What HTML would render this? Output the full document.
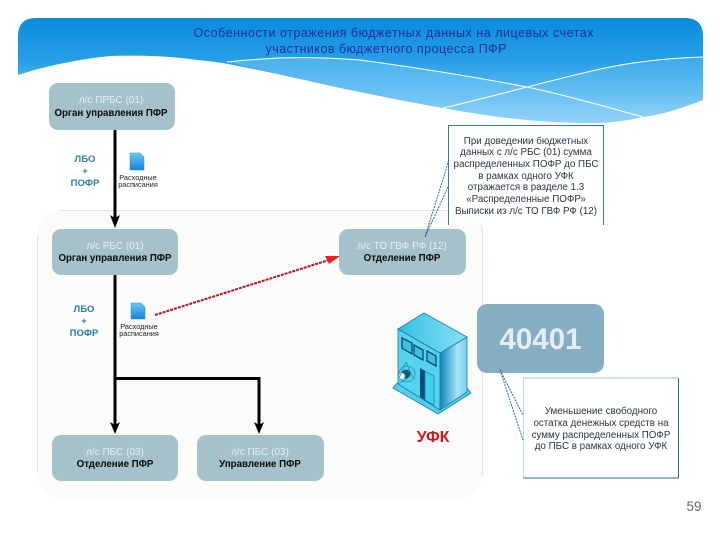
<!DOCTYPE html>
<html><head><meta charset="utf-8"><style>
html,body{margin:0;padding:0;background:#fff}
svg{display:block}
text{font-family:"Liberation Sans","DejaVu Sans",sans-serif}
</style></head><body>
<svg width="720" height="540" viewBox="0 0 720 540" xmlns="http://www.w3.org/2000/svg">
<defs>
<linearGradient id="h" gradientUnits="userSpaceOnUse" x1="0" y1="18" x2="0" y2="123"><stop offset="0" stop-color="#0b8bd9"/><stop offset=".42" stop-color="#28a0e8"/><stop offset=".7" stop-color="#58b8f0"/><stop offset="1" stop-color="#a4dbfa"/></linearGradient>
<linearGradient id="b" x1="0" y1="0" x2="1" y2="0"><stop offset="0" stop-color="#0f86bb"/><stop offset=".65" stop-color="#a8e4f4"/><stop offset="1" stop-color="#70d4ee"/></linearGradient>
<linearGradient id="t" x1="0" y1="0" x2="1" y2="0"><stop offset="0" stop-color="#35c0e4"/><stop offset="1" stop-color="#85e2f6"/></linearGradient>
<linearGradient id="d" x1="0" y1="0" x2="0" y2="1"><stop offset="0" stop-color="#6cc8f5"/><stop offset="1" stop-color="#1682de"/></linearGradient>
</defs>
<rect width="720" height="540" fill="#fff"/>
<path d="M18 75V36Q18 18 36 18H685Q703 18 703 36V100C680 109 660 115 643 117C625 121 610 123 593 123C570 123 550 122 527 120C495 117 470 113 443 108C415 103 390 98 360 92C320 84 280 74 243 67C225 63 210 61 197 60C170 56 140 55 110 56C80 59 45 66 18 75Z" fill="url(#h)"/>
<path d="M227 62C245 60 262 59 277 58C305 57 335 58 360 60C420 68 480 78 527 87C570 96 610 108 643 117C625 121 610 123 593 123C570 123 550 122 527 120C495 117 470 113 443 108C415 103 390 98 360 92C320 84 280 74 227 62Z" fill="#7ccaf5" opacity=".45"/>
<path d="M443 108C470 102 500 94 527 87C555 80 585 72 610 67C640 61 670 58 703 57V100C680 109 660 115 643 117C610 108 570 96 527 87C500 94 470 102 443 108Z" fill="#7ccaf5" opacity=".3"/>
<path d="M227 62C245 60 262 59 277 58C305 57 335 58 360 60C420 68 480 78 527 87C570 96 610 108 643 117M443 108C470 102 500 94 527 87C555 80 585 72 610 67C640 61 670 58 703 57" fill="none" stroke="#fff" stroke-width="1"/>
<text x="393.500" y="37" text-anchor="middle" font-size="12.500" fill="#1e2f9e" textLength="400" lengthAdjust="spacing">Особенности отражения бюджетных данных на лицевых счетах</text>
<text x="386" y="53" text-anchor="middle" font-size="12.500" fill="#1e2f9e" textLength="241" lengthAdjust="spacing">участников бюджетного процесса ПФР</text>

<rect x="37" y="210" width="446" height="289" rx="24" fill="#fbfbf9"/>
<path d="M60 210.500H460C474 210.500 482.500 220 482.500 234V475" fill="none" stroke="#e2e2de"/>
<path d="M37.500 235V472" fill="none" stroke="#e2e2de"/>

<g fill="#a5c1ca">
<rect x="49" y="83" width="126" height="47" rx="9"/>
<rect x="52" y="229" width="126" height="46" rx="9"/>
<rect x="339" y="229" width="127" height="46" rx="9"/>
<rect x="52" y="435" width="126" height="46" rx="9"/>
<rect x="197" y="435" width="127" height="46" rx="9"/>
</g>
<rect x="477" y="304" width="127" height="69" rx="10" fill="#86aec3"/>
<text x="540.500" y="349" text-anchor="middle" font-size="29.500" font-weight="bold" fill="#e3edf3">40401</text>

<g font-size="10" text-anchor="middle" fill="#e6eff2">
<text x="111" y="103">л/с ПРБС (01)</text>
<text x="115" y="249">л/с РБС (01)</text>
<text x="402" y="249">л/с ТО ГВФ РФ (12)</text>
<text x="115" y="455">л/с ПБС (03)</text>
<text x="260" y="455">л/с ПБС (03)</text>
</g>
<g font-size="9.700" font-weight="bold" text-anchor="middle" fill="#0a0a0a">
<text x="111" y="116">Орган управления ПФР</text>
<text x="115" y="261">Орган управления ПФР</text>
<text x="402" y="261">Отделение ПФР</text>
<text x="115" y="467">Отделение ПФР</text>
<text x="260" y="467">Управление ПФР</text>
</g>

<g stroke="#000" stroke-width="3" fill="none">
<path d="M115 130V218M115 275V425M115 378.500H259V425"/>
</g>
<g fill="#000">
<path d="M110 215L115 218L120 215L115 228Z"/>
<path d="M110 422L115 425L120 422L115 434Z"/>
<path d="M254 422L259 425L264 422L259 434Z"/>
</g>

<g font-size="9.500" font-weight="bold" text-anchor="middle" fill="#2a7d9f">
<text x="85" y="162">ЛБО</text><text x="85" y="174">+</text><text x="85" y="186">ПОФР</text>
<text x="84" y="312">ЛБО</text><text x="84" y="324">+</text><text x="84" y="336">ПОФР</text>
</g>

<path d="M130 153H140L144 157V170H130Z" fill="url(#d)" stroke="#2a8fd0" stroke-width=".5"/>
<path d="M131 303H141L145 307V319H131Z" fill="url(#d)" stroke="#2a8fd0" stroke-width=".5"/>
<g font-size="7.300" text-anchor="middle" fill="#222">
<text x="138" y="180">Расходные</text><text x="138" y="187">расписания</text>
<text x="139" y="329">Расходные</text><text x="139" y="336">расписания</text>
</g>

<path d="M155 315L332 259" stroke="#b3122a" stroke-width="2" stroke-dasharray="3 1" fill="none"/>
<path d="M325 256L340 256L329 264Z" fill="#ee1c25"/>

<path d="M448.500 225V125.500H603.500V225" fill="#fff" stroke="#357d9c"/>
<path d="M448 163L425 237M448 187L425 237" stroke="#2a6f8e" stroke-dasharray="2 1" fill="none"/>
<g font-size="9.800" text-anchor="middle" fill="#2a3540">
<text x="526" y="144">При доведении бюджетных</text>
<text x="526" y="155">данных с л/с РБС (01) сумма</text>
<text x="526" y="167">распределенных ПОФР до ПБС</text>
<text x="526" y="179">в рамках одного УФК</text>
<text x="526" y="190">отражается в разделе 1.3</text>
<text x="526" y="202">«Распределенные ПОФР»</text>
<text x="526" y="214">Выписки из л/с ТО ГВФ РФ (12)</text>
</g>

<path d="M524 378H678.500V478H524Z" fill="#fff"/>
<path d="M524 378H678.500" stroke="#9cc8d8" fill="none"/>
<path d="M523.500 378V478" stroke="#b5e0ee" fill="none"/>
<path d="M678.500 378V478H523.500" stroke="#2a6f8e" fill="none"/>
<path d="M500 370L523 415M500 370L523 440" stroke="#2a6f8e" stroke-dasharray="2 1" fill="none"/>
<g font-size="9.800" text-anchor="middle" fill="#2a3540">
<text x="601" y="414">Уменьшение свободного</text>
<text x="601" y="426">остатка денежных средств на</text>
<text x="601" y="438">сумму распределенных ПОФР</text>
<text x="601" y="449">до ПБС в рамках одного УФК</text>
</g>

<path d="M393 388L438 414L471 393L467 388L440 405L397 383Z" fill="#4fd0ee" stroke="#1a7ea6" stroke-width=".8"/>
<path d="M398 329V384L440 410V353Z" fill="#55d2f0" stroke="#1a7ea6" stroke-width=".8"/>
<path d="M440 353L467 337V392L440 410Z" fill="url(#b)" stroke="#1a7ea6" stroke-width=".8"/>
<path d="M398 329L424 313L467 337L440 353Z" fill="url(#t)" stroke="#1a7ea6" stroke-width=".8"/>
<g fill="#3fc2e2" stroke="#0f4a68" stroke-width="1.300">
<path d="M402 338L412 343V354L402 348Z"/><path d="M414 345L423 350V360L414 355Z"/><path d="M427 351L436 356V366L427 361Z"/>
</g>
<path d="M420 368L425 371V400L420 397Z" fill="#0e4d75"/>
<path d="M425 371L434 376V405L425 400Z" fill="#3fd0ec" stroke="#1a7ea6" stroke-width=".7"/>
<circle cx="407" cy="374" r="8" fill="none" stroke="#1a7ea6" stroke-width=".6"/>
<circle cx="406" cy="374" r="4.500" fill="#155b7c"/>
<circle cx="402" cy="376" r="3" fill="#eefcff"/>
<path d="M406 362L399 378M406 362L413 378M398 384L408 378" stroke="#1a7ea6" stroke-width=".6" fill="none"/>
<text x="433" y="442" text-anchor="middle" font-size="16" font-weight="bold" fill="#c8191c">УФК</text>

<text x="694" y="511" text-anchor="middle" font-size="13.500" fill="#666">59</text>
</svg>
</body></html>
